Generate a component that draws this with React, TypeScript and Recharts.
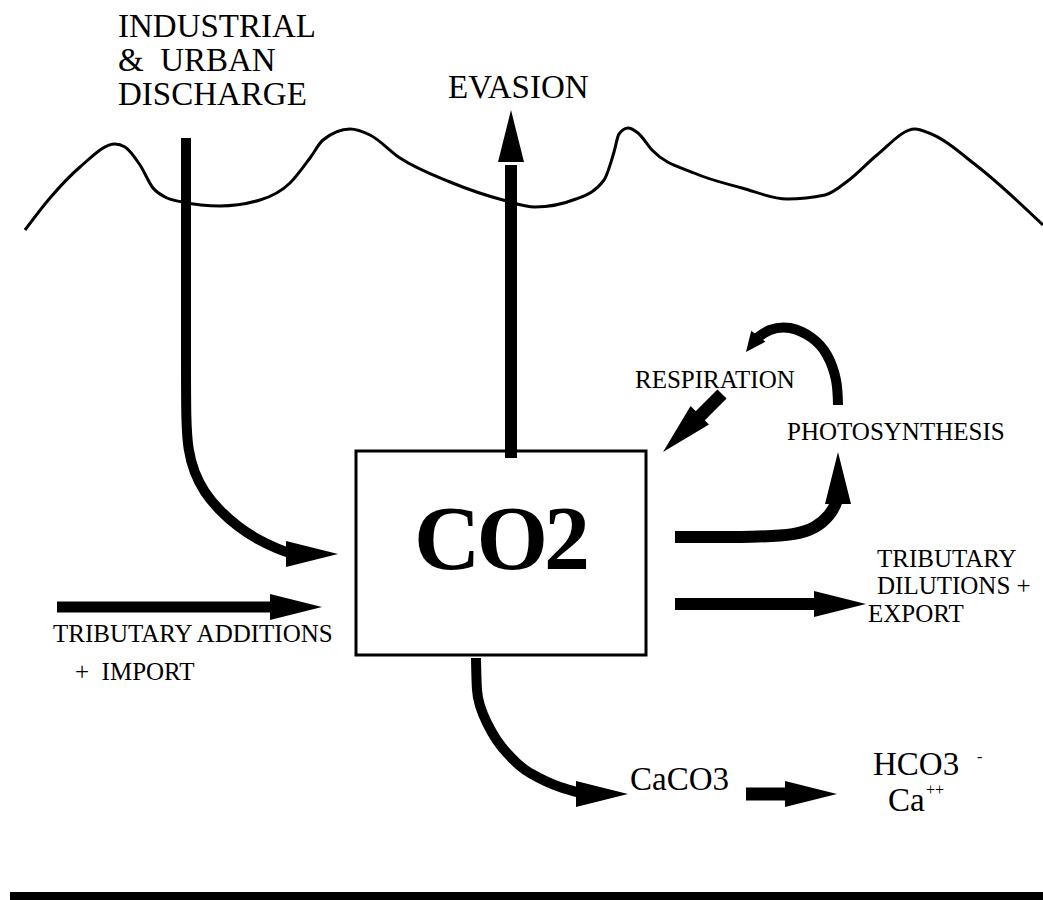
import { ComposedChart, Line, ReferenceArea, Scatter, XAxis, YAxis } from 'recharts';

// water surface
const wave = [
  { x: 25, y: 230 }, { x: 50, y: 198 }, { x: 80, y: 167 }, { x: 115, y: 144 }, { x: 125, y: 147 },
  { x: 140, y: 165 }, { x: 153, y: 188 }, { x: 165, y: 197 }, { x: 182, y: 202 }, { x: 220, y: 206 },
  { x: 260, y: 200 }, { x: 290, y: 183 }, { x: 310, y: 158 }, { x: 323, y: 140 }, { x: 350, y: 129 },
  { x: 370, y: 135 }, { x: 400, y: 158 }, { x: 450, y: 182 }, { x: 503, y: 200 }, { x: 535, y: 207 },
  { x: 576, y: 199 }, { x: 604, y: 180 }, { x: 614, y: 152 }, { x: 619, y: 134 }, { x: 628, y: 128 },
  { x: 638, y: 133 }, { x: 652, y: 150 }, { x: 694, y: 173 }, { x: 742, y: 188 }, { x: 787, y: 199 },
  { x: 825, y: 195 }, { x: 849, y: 180 }, { x: 877, y: 155 }, { x: 915, y: 129 }, { x: 929, y: 133 },
  { x: 977, y: 166 }, { x: 1043, y: 225 },
];

// arrow shafts
const industrialPath = [
  { x: 186, y: 138 }, { x: 186, y: 250 }, { x: 186, y: 360 }, { x: 186, y: 420 }, { x: 188, y: 450 },
  { x: 194, y: 472 }, { x: 204, y: 492 }, { x: 219, y: 510 }, { x: 237, y: 526 }, { x: 258, y: 540 },
  { x: 278, y: 549 }, { x: 292, y: 554 },
];
const evasionPath = [{ x: 511, y: 458 }, { x: 511, y: 165 }];
const importPath = [{ x: 57, y: 607 }, { x: 275, y: 607 }];
const exportPath = [{ x: 675, y: 604 }, { x: 820, y: 604 }];
const photoPath = [
  { x: 675, y: 537 }, { x: 760, y: 537 }, { x: 795, y: 535 }, { x: 816, y: 528 }, { x: 830, y: 515 },
  { x: 836, y: 504 }, { x: 838, y: 496 },
];
const cyclePath = [
  { x: 838, y: 405 }, { x: 836, y: 380 }, { x: 827, y: 355 }, { x: 812, y: 338 }, { x: 790, y: 328 },
  { x: 770, y: 330 }, { x: 757, y: 338 },
];
const respPath = [{ x: 722, y: 394 }, { x: 695, y: 421 }];
const calcitePath = [
  { x: 476, y: 658 }, { x: 477, y: 690 }, { x: 487, y: 723 }, { x: 507, y: 753 }, { x: 530, y: 773 },
  { x: 560, y: 787 }, { x: 580, y: 793 },
];
const dissolvePath = [{ x: 746, y: 794 }, { x: 790, y: 794 }];
const groundLine = [{ x: 10, y: 896 }, { x: 1043, y: 896 }];

// arrow heads: tip position and direction in degrees
const heads = [
  { x: 338, y: 554, dir: 0 },
  { x: 511, y: 110, dir: -90 },
  { x: 322, y: 607, dir: 0 },
  { x: 866, y: 604, dir: 0 },
  { x: 838, y: 452, dir: -90 },
  { x: 663, y: 452, dir: 135 },
  { x: 628, y: 794, dir: 0 },
  { x: 837, y: 794, dir: 0 },
];
const smallHeads = [{ x: 746, y: 352, dir: 128 }];

// labels
const titleLabels = [
  { x: 118, y: 37, text: 'INDUSTRIAL' },
  { x: 118, y: 71, text: '&  URBAN' },
  { x: 118, y: 105, text: 'DISCHARGE' },
  { x: 448, y: 98, text: 'EVASION' },
];
const formulaLabels = [
  { x: 630, y: 790, text: 'CaCO3' },
  { x: 873, y: 775, text: 'HCO3' },
  { x: 888, y: 811, text: 'Ca' },
];
const superLabels = [
  { x: 977, y: 762, text: '-' },
  { x: 926, y: 795, text: '++' },
];
const noteLabels = [
  { x: 635, y: 388, text: 'RESPIRATION' },
  { x: 787, y: 440, text: 'PHOTOSYNTHESIS' },
  { x: 877, y: 567, text: 'TRIBUTARY' },
  { x: 877, y: 594, text: 'DILUTIONS +' },
  { x: 868, y: 622, text: 'EXPORT' },
  { x: 53, y: 642, text: 'TRIBUTARY ADDITIONS' },
  { x: 75, y: 680, text: '+  IMPORT' },
];
const centerLabel = [{ x: 500, y: 569, text: 'CO2' }];

const FONT = '"Liberation Serif", "Times New Roman", serif';

const headShape = (len: number, half: number) => (props: any) => {
  const { cx, cy, payload } = props;
  const a = (payload.dir * Math.PI) / 180;
  const bx = cx - len * Math.cos(a);
  const by = cy - len * Math.sin(a);
  const px = -Math.sin(a) * half;
  const py = Math.cos(a) * half;
  return (
    <polygon
      points={`${cx},${cy} ${bx + px},${by + py} ${bx - px},${by - py}`}
      fill="#000"
    />
  );
};

const textShape = (size: number, weight = 'normal', anchor = 'start') => (props: any) => {
  const { cx, cy, payload } = props;
  return (
    <text
      x={cx}
      y={cy}
      fontSize={size}
      fontWeight={weight}
      fontFamily={FONT}
      textAnchor={anchor}
      fill="#000"
      style={{ whiteSpace: 'pre' }}
      letterSpacing={weight === 'bold' ? -4 : 0}
    >
      {payload.text}
    </text>
  );
};

const shaft = (data: any[], width: number, curve: any, key: string) => (
  <Line
    key={key}
    data={data}
    dataKey="y"
    type={curve}
    stroke="#000"
    strokeWidth={width}
    dot={false}
    activeDot={false}
    isAnimationActive={false}
  />
);

export default function App() {
  return (
    <div style={{ position: 'absolute', left: 0, top: 0, background: '#fff' }}>
      <ComposedChart width={1043} height={900} margin={{ top: 0, right: 0, bottom: 0, left: 0 }}>
        <XAxis type="number" dataKey="x" domain={[0, 1043]} hide allowDataOverflow />
        <YAxis type="number" dataKey="y" domain={[0, 900]} reversed hide allowDataOverflow />
        <ReferenceArea
          x1={356}
          x2={646}
          y1={451}
          y2={655}
          stroke="#000"
          strokeWidth={3}
          fill="#fff"
          fillOpacity={1}
        />
        {shaft(wave, 3, 'monotone', 'wave')}
        {shaft(industrialPath, 10, 'basis', 'ind')}
        {shaft(evasionPath, 12, 'linear', 'eva')}
        {shaft(importPath, 11, 'linear', 'imp')}
        {shaft(exportPath, 12, 'linear', 'exp')}
        {shaft(photoPath, 12, 'basis', 'pho')}
        {shaft(cyclePath, 10, 'natural', 'cyc')}
        {shaft(respPath, 13, 'linear', 'res')}
        {shaft(calcitePath, 10, 'monotoneY', 'cal')}
        {shaft(dissolvePath, 13, 'linear', 'dis')}
        {shaft(groundLine, 8, 'linear', 'gnd')}
        <Scatter data={heads} shape={headShape(52, 13)} isAnimationActive={false} />
        <Scatter data={smallHeads} shape={headShape(20, 9)} isAnimationActive={false} />
        <Scatter data={titleLabels} shape={textShape(33)} isAnimationActive={false} />
        <Scatter data={formulaLabels} shape={textShape(33)} isAnimationActive={false} />
        <Scatter data={superLabels} shape={textShape(16)} isAnimationActive={false} />
        <Scatter data={noteLabels} shape={textShape(25)} isAnimationActive={false} />
        <Scatter data={centerLabel} shape={textShape(92, 'bold', 'middle')} isAnimationActive={false} />
      </ComposedChart>
    </div>
  );
}
